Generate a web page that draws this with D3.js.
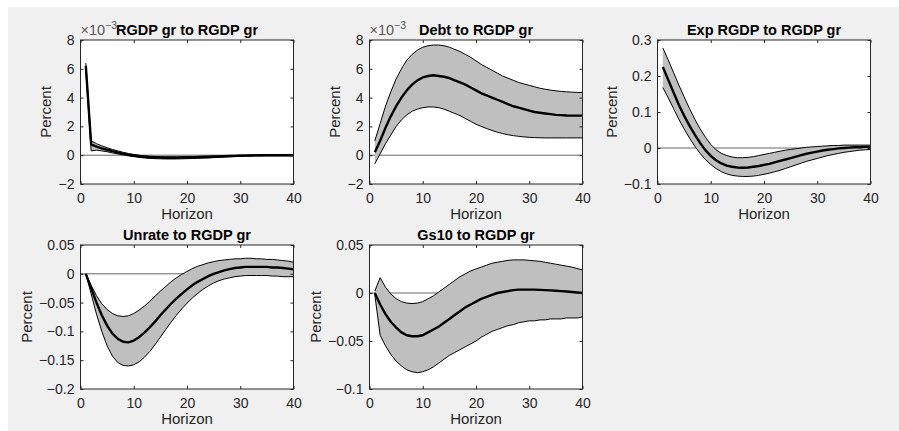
<!DOCTYPE html>
<html>
<head>
<meta charset="utf-8">
<script src="https://cdn.jsdelivr.net/npm/d3@7"></script>
<style>
  body { margin: 0; background: #fff; }
  text { font-family: "Liberation Sans", Arial, Helvetica, sans-serif; }
</style>
</head>
<body>
<svg id="fig" width="899" height="431"></svg>
<script>
// horizons 1..40 (x categories)
const horizons = d3.range(1, 41);

// RGDP gr to RGDP gr (x 1e-3)
const rgdpMed = [6.2,0.75,0.6,0.48,0.38,0.28,0.19,0.11,0.04,-0.02, -0.07,-0.11,-0.14,-0.16,-0.17,-0.18,-0.18,-0.18,-0.17,-0.16, -0.15,-0.14,-0.13,-0.12,-0.1,-0.09,-0.07,-0.06,-0.05,-0.04, -0.03,-0.02,-0.01,0,0,0,0,0,0,0];
const rgdpUp = [6.4,1.0,0.8,0.65,0.52,0.4,0.3,0.2,0.12,0.05, 0.0,-0.04,-0.07,-0.09,-0.1,-0.11,-0.11,-0.11,-0.1,-0.1, -0.09,-0.08,-0.07,-0.06,-0.05,-0.04,-0.03,-0.02,-0.01,0, 0.01,0.02,0.03,0.03,0.04,0.04,0.04,0.05,0.05,0.05];
const rgdpLo = [5.9,0.3,0.35,0.3,0.24,0.16,0.09,0.02,-0.05,-0.1, -0.15,-0.19,-0.22,-0.24,-0.25,-0.26,-0.26,-0.26,-0.25,-0.24, -0.23,-0.22,-0.2,-0.19,-0.17,-0.15,-0.13,-0.11,-0.1,-0.08, -0.07,-0.06,-0.05,-0.05,-0.04,-0.04,-0.04,-0.04,-0.04,-0.04];

// Debt to RGDP gr (x 1e-3)
const debtMed = [0.2,1.0,1.9,2.7,3.4,4.0,4.5,4.9,5.2,5.4, 5.5,5.55,5.5,5.45,5.35,5.2,5.05,4.9,4.7,4.5, 4.3,4.15,4.0,3.85,3.7,3.55,3.4,3.3,3.2,3.1, 3.0,2.95,2.9,2.85,2.8,2.78,2.76,2.75,2.75,2.75];
const debtUp = [1.0,2.2,3.4,4.4,5.3,6.0,6.6,7.0,7.3,7.5, 7.6,7.65,7.65,7.6,7.5,7.35,7.2,7.0,6.8,6.55, 6.3,6.1,5.9,5.7,5.5,5.35,5.2,5.05,4.95,4.85, 4.75,4.65,4.58,4.52,4.47,4.43,4.4,4.38,4.36,4.35];
const debtLo = [-0.6,0.1,0.8,1.4,2.0,2.45,2.8,3.05,3.2,3.3, 3.35,3.35,3.3,3.2,3.05,2.9,2.75,2.55,2.35,2.15, 2.0,1.85,1.72,1.6,1.5,1.42,1.36,1.31,1.27,1.24, 1.22,1.21,1.2,1.2,1.2,1.2,1.2,1.2,1.2,1.2];

// Exp RGDP to RGDP gr
const expMed = [0.225,0.19,0.155,0.12,0.09,0.062,0.037,0.014,-0.006,-0.022, -0.034,-0.043,-0.049,-0.052,-0.054,-0.055,-0.054,-0.052,-0.05,-0.047, -0.044,-0.04,-0.036,-0.032,-0.028,-0.024,-0.02,-0.016,-0.013,-0.01, -0.007,-0.005,-0.003,-0.001,0.0,0.001,0.002,0.002,0.003,0.003];
const expUp = [0.278,0.245,0.21,0.175,0.142,0.11,0.08,0.053,0.03,0.01, -0.005,-0.015,-0.021,-0.025,-0.027,-0.027,-0.026,-0.024,-0.021,-0.018, -0.015,-0.012,-0.009,-0.006,-0.004,-0.002,0.0,0.002,0.003,0.004, 0.005,0.006,0.007,0.007,0.008,0.008,0.008,0.008,0.008,0.008];
const expLo = [0.168,0.14,0.11,0.08,0.053,0.028,0.005,-0.015,-0.032,-0.046, -0.057,-0.066,-0.072,-0.076,-0.078,-0.079,-0.079,-0.078,-0.076,-0.073, -0.07,-0.066,-0.062,-0.057,-0.052,-0.047,-0.042,-0.037,-0.033,-0.029, -0.025,-0.021,-0.018,-0.015,-0.012,-0.01,-0.008,-0.006,-0.005,-0.004];

// Unrate to RGDP gr
const unMed = [0,-0.025,-0.05,-0.072,-0.09,-0.104,-0.113,-0.118,-0.119,-0.116, -0.11,-0.102,-0.093,-0.083,-0.072,-0.062,-0.052,-0.043,-0.035,-0.027, -0.02,-0.014,-0.009,-0.004,0.0,0.003,0.006,0.008,0.01,0.011, 0.012,0.012,0.012,0.012,0.012,0.011,0.011,0.01,0.009,0.008];
const unUp = [0,-0.02,-0.038,-0.052,-0.062,-0.069,-0.073,-0.074,-0.073,-0.069, -0.063,-0.056,-0.048,-0.039,-0.03,-0.022,-0.014,-0.007,-0.001,0.004, 0.009,0.013,0.016,0.019,0.021,0.023,0.024,0.025,0.026,0.026, 0.027,0.027,0.026,0.026,0.025,0.025,0.024,0.023,0.022,0.02];
const unLo = [0,-0.035,-0.07,-0.1,-0.125,-0.143,-0.154,-0.159,-0.16,-0.158, -0.153,-0.145,-0.135,-0.123,-0.11,-0.097,-0.084,-0.072,-0.061,-0.051, -0.042,-0.034,-0.027,-0.021,-0.016,-0.012,-0.009,-0.007,-0.005,-0.004, -0.003,-0.003,-0.003,-0.003,-0.003,-0.004,-0.004,-0.005,-0.005,-0.005];

// Gs10 to RGDP gr
const gsMed = [0,-0.012,-0.022,-0.03,-0.036,-0.041,-0.044,-0.045,-0.045,-0.044, -0.041,-0.038,-0.035,-0.031,-0.027,-0.023,-0.019,-0.015,-0.012,-0.009, -0.006,-0.004,-0.002,0.0,0.001,0.002,0.003,0.0035,0.0035,0.0035, 0.0035,0.0033,0.003,0.0027,0.0024,0.002,0.0015,0.001,0.0005,0.0];
const gsUp = [0.002,0.016,0.006,-0.001,-0.006,-0.009,-0.0105,-0.011,-0.0105,-0.009, -0.006,-0.003,0.001,0.005,0.009,0.013,0.017,0.02,0.023,0.025, 0.027,0.029,0.031,0.032,0.033,0.034,0.0345,0.0345,0.0345,0.034, 0.0335,0.033,0.032,0.031,0.03,0.029,0.028,0.027,0.0255,0.024];
const gsLo = [-0.002,-0.044,-0.055,-0.064,-0.071,-0.076,-0.08,-0.082,-0.083,-0.082, -0.08,-0.077,-0.073,-0.069,-0.065,-0.062,-0.059,-0.056,-0.053,-0.05, -0.046,-0.043,-0.04,-0.038,-0.036,-0.034,-0.033,-0.031,-0.03,-0.029, -0.029,-0.028,-0.028,-0.027,-0.027,-0.027,-0.026,-0.026,-0.026,-0.025];

const titles = ["RGDP gr to RGDP gr", "Debt to RGDP gr", "Exp RGDP to RGDP gr", "Unrate to RGDP gr", "Gs10 to RGDP gr"];
const xTicks = [0, 10, 20, 30, 40];
const yTicks = [
    [-2, 0, 2, 4, 6, 8],
    [-2, 0, 2, 4, 6, 8],
    [-0.1, 0, 0.1, 0.2, 0.3],
    [-0.2, -0.15, -0.1, -0.05, 0, 0.05],
    [-0.1, -0.05, 0, 0.05]
];
const exponents = [-3, -3, null, null, null];

const panels = [
    { med: rgdpMed, up: rgdpUp, lo: rgdpLo, col: 0, row: 0 },
    { med: debtMed, up: debtUp, lo: debtLo, col: 1, row: 0 },
    { med: expMed, up: expUp, lo: expLo, col: 2, row: 0 },
    { med: unMed, up: unUp, lo: unLo, col: 0, row: 1 },
    { med: gsMed, up: gsUp, lo: gsLo, col: 1, row: 1 }
];

const colLeft = [80.5, 369.5, 657.5];
const rowTop = [40, 245];
const pw = 213, ph = 144;
const axisColor = "#262626";
const font = '"Liberation Sans", Arial, Helvetica, sans-serif';

const svg = d3.select("#fig");
svg.append("rect").attr("x", 8).attr("y", 7).attr("width", 891).attr("height", 424).attr("fill", "#f0f0f0");

panels.forEach(function (p, i) {
    const left = colLeft[p.col], top = rowTop[p.row];
    const ticks = yTicks[i];
    const x = d3.scaleLinear().domain([0, 40]).range([left, left + pw]);
    const y = d3.scaleLinear().domain([ticks[0], ticks[ticks.length - 1]]).range([top + ph, top]);

    const g = svg.append("g");
    g.append("rect").attr("x", left).attr("y", top).attr("width", pw).attr("height", ph).attr("fill", "#fff");

    // zero line, under the band
    g.append("line")
        .attr("x1", x(0)).attr("x2", x(40))
        .attr("y1", y(0)).attr("y2", y(0))
        .attr("stroke", "#000").attr("stroke-width", 0.6);

    const rows = horizons.map((h, k) => ({ h: h, m: p.med[k], u: p.up[k], l: p.lo[k] }));

    g.append("path").datum(rows)
        .attr("fill", "#bfbfbf")
        .attr("d", d3.area().x(d => x(d.h)).y0(d => y(d.l)).y1(d => y(d.u)));

    ["u", "l"].forEach(function (key) {
        g.append("path").datum(rows)
            .attr("fill", "none").attr("stroke", "#000").attr("stroke-width", 1)
            .attr("d", d3.line().x(d => x(d.h)).y(d => y(d[key])));
    });

    g.append("path").datum(rows)
        .attr("fill", "none").attr("stroke", "#000").attr("stroke-width", 2.4)
        .attr("stroke-linejoin", "round")
        .attr("d", d3.line().x(d => x(d.h)).y(d => y(d.m)));

    // axes (ticks pointing inward, box on)
    const styleAxis = sel => sel.attr("color", axisColor).attr("font-size", 14).attr("font-family", font)
        .call(s => s.select(".domain").remove());

    const yAxis = g.append("g").attr("transform", `translate(${left},0)`)
        .call(d3.axisLeft(y).tickValues(ticks).tickSizeInner(-3).tickSizeOuter(0).tickPadding(6).tickFormat(d3.format("")))
        .call(styleAxis);
    g.append("g").attr("transform", `translate(${left + pw},0)`)
        .call(d3.axisRight(y).tickValues(ticks).tickSizeInner(-3).tickSizeOuter(0).tickFormat(""))
        .call(styleAxis);
    g.append("g").attr("transform", `translate(0,${top + ph})`)
        .call(d3.axisBottom(x).tickValues(xTicks).tickSizeInner(-3).tickSizeOuter(0).tickPadding(9))
        .call(styleAxis);
    g.append("g").attr("transform", `translate(0,${top})`)
        .call(d3.axisTop(x).tickValues(xTicks).tickSizeInner(-3).tickSizeOuter(0).tickFormat(""))
        .call(styleAxis);

    g.append("rect").attr("x", left).attr("y", top).attr("width", pw).attr("height", ph)
        .attr("fill", "none").attr("stroke", axisColor).attr("stroke-width", 1);

    // labels
    let maxW = 0;
    yAxis.selectAll(".tick text").each(function () { maxW = Math.max(maxW, this.getBBox().width); });

    g.append("text")
        .attr("transform", `translate(${left - 6 - maxW - 7},${top + ph / 2}) rotate(-90)`)
        .attr("text-anchor", "middle").attr("font-size", 15).attr("fill", axisColor)
        .text("Percent");

    g.append("text")
        .attr("x", left + pw / 2).attr("y", top + ph + 35)
        .attr("text-anchor", "middle").attr("font-size", 15).attr("fill", axisColor)
        .text("Horizon");

    if (exponents[i] !== null) {
        const ex = g.append("text").attr("x", left).attr("y", top - 5)
            .attr("font-size", 14.5).attr("fill", "#595959");
        ex.append("tspan").text("\u00d710");
        ex.append("tspan").attr("font-size", 10.5).attr("dy", -6).text("\u2212" + Math.abs(exponents[i]));
    }

    g.append("text")
        .attr("x", left + pw / 2).attr("y", top - 5.5)
        .attr("text-anchor", "middle").attr("font-size", 14.5).attr("font-weight", "bold").attr("fill", "#000")
        .text(titles[i]);
});
</script>
</body>
</html>
